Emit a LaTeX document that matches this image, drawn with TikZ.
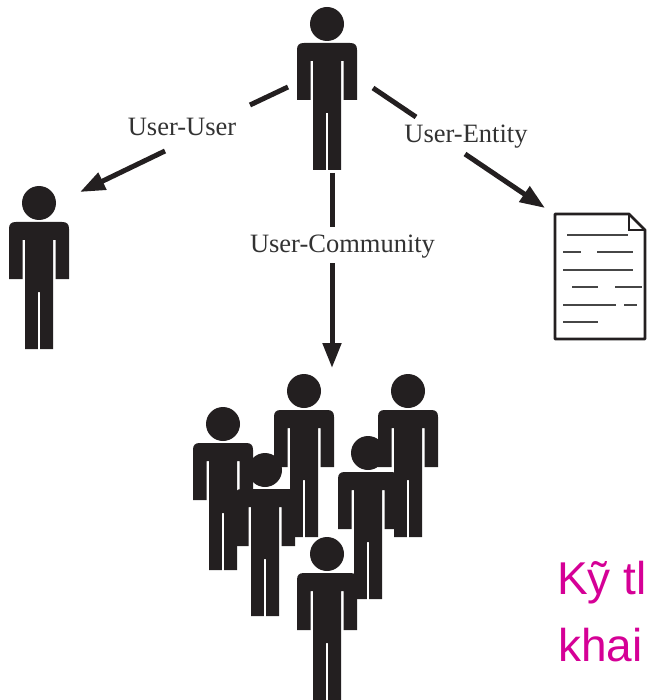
\documentclass[tikz,border=0pt]{standalone}
\usepackage{fontspec}
\setmainfont{Liberation Serif}
\newfontfamily\captionfont{Liberation Sans}
\usetikzlibrary{arrows.meta}
\definecolor{figure}{RGB}{35,31,32}
\definecolor{labeltext}{RGB}{50,50,50}
\definecolor{pagetext}{RGB}{70,70,70}
\definecolor{caption}{RGB}{213,0,150}
\tikzset{
    person/.pic={
        \fill[figure] (0, 0) circle (17);
        \fill[figure] (-30, 76) -- (-30, 26) .. controls (-30, 21) and (-28, 19) .. (-23, 19)
            -- (23, 19) .. controls (28, 19) and (30, 21) .. (30, 26) -- (30, 76) -- (16.5, 76)
            -- (16.5, 37) -- (14, 37) -- (14, 146) -- (1.2, 146) -- (1.2, 89) -- (-1.2, 89)
            -- (-1.2, 146) -- (-14, 146) -- (-14, 37) -- (-16.5, 37) -- (-16.5, 76) -- cycle;
    },
    edgeline/.style={line width=5, color=figure},
    edgearrow/.style={edgeline, -{Triangle[length=25, width=18]}},
    edgelabel/.style={anchor=base, inner sep=0, text=labeltext, font=\fontsize{26.5}{32}\selectfont},
    captionline/.style={anchor=base west, inner sep=0, text=caption, font=\captionfont\fontsize{46}{55}\selectfont},
    pageline/.style={line width=2, color=pagetext}
}
\begin{document}
\begin{tikzpicture}[x=1pt, y=-1pt]
    \useasboundingbox (0, 0) rectangle (647, 700);

    \coordinate (topuser) at (327, 24);
    \coordinate (leftuser) at (39, 203);
    \coordinate (commA) at (304, 391);
    \coordinate (commB) at (408, 391);
    \coordinate (commC) at (223, 424);
    \coordinate (commD) at (368, 453);
    \coordinate (commE) at (265, 470);
    \coordinate (commF) at (327, 554);
    \foreach \who in {topuser, leftuser, commA, commB, commC, commD, commE, commF}
        \pic at (\who) {person};

    \node[edgelabel] (useruser) at (182, 136) {User-User};
    \node[edgelabel] (userentity) at (466, 143) {User-Entity};
    \node[edgelabel] (usercomm) at (342.5, 252) {User-Community};

    % each connector is broken where its label sits
    \coordinate (uuA) at (288, 87);
    \coordinate (uuB) at (250, 105);
    \coordinate (uuC) at (165, 151);
    \coordinate (uuD) at (80, 192);
    \coordinate (ueA) at (373, 88);
    \coordinate (ueB) at (416, 117);
    \coordinate (ueC) at (465, 154);
    \coordinate (ueD) at (545, 208);
    \coordinate (ucA) at (332, 173);
    \coordinate (ucB) at (332, 227);
    \coordinate (ucC) at (332, 263);
    \coordinate (ucD) at (332, 368);
    \draw[edgeline] (uuA) -- (uuB);
    \draw[edgearrow] (uuC) -- (uuD);
    \draw[edgeline] (ueA) -- (ueB);
    \draw[edgearrow] (ueC) -- (ueD);
    \draw[edgeline] (ucA) -- (ucB);
    \draw[edgearrow] (ucC) -- (ucD);

    % the document
    \draw[line width=2.8, color=figure, line join=round] (555, 214) -- (629, 214) -- (645, 230)
        -- (645, 339) -- (555, 339) -- cycle;
    \draw[line width=2.8, color=figure] (629, 214) -- (629, 230) -- (645, 230);
    \foreach \ya/\xa/\xb in {235/567/628, 252/563/581, 252/597/633, 270/563/633, 287/572/598,
            287/615/642, 304.5/563/616, 304.5/624/637, 322/563/598}
        \draw[pageline] (\xa, \ya) -- (\xb, \ya);

    \node[captionline] (capA) at (557, 594) {Kỹ tl};
    \node[captionline] (capB) at (558, 661) {khai};
\end{tikzpicture}
\end{document}
